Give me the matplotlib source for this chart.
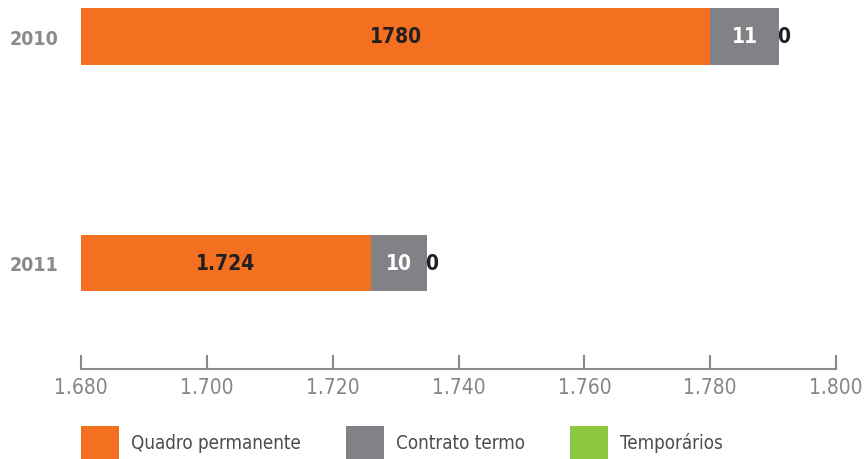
import numpy as np
import matplotlib.pyplot as plt
from matplotlib.patches import Patch

plt.rcParams['font.family'] = ['DejaVu Sans']
plt.rcParams['font.stretch'] = 'condensed'

# dados
anos = ['2011', '2010']
quadro = [1726, 1780]
contrato = [9, 11]
temporarios = [0, 0]
rot_quadro = ['1.724', '1780']
rot_contrato = ['10', '11']
rot_temp = ['0', '0']
series = ['Quadro permanente', 'Contrato termo', 'Temporários']
cores = ['#F37021', '#808285', '#8DC63F']

fig = plt.figure(figsize=(8.68, 4.6), dpi=100)
ax = fig.add_axes([0.0935, 0.1957, 0.8697, 0.8043])

y = np.arange(len(anos))
h = 0.249
ax.barh(y, quadro, height=h, color=cores[0], left=0)
ax.barh(y, contrato, height=h, color=cores[1], left=quadro)
fim = np.array(quadro) + np.array(contrato)
ax.barh(y, temporarios, height=h, color=cores[2], left=fim)

for i in range(len(anos)):
    ax.text((1680 + quadro[i]) / 2, y[i], rot_quadro[i], ha='center', va='center',
            fontsize=15, fontweight='bold', color='#231f20')
    ax.text(quadro[i] + contrato[i] / 2, y[i], rot_contrato[i], ha='center', va='center',
            fontsize=15, fontweight='bold', color='white')
    ax.text(fim[i] - 0.4, y[i], rot_temp[i], ha='left', va='center',
            fontsize=15, fontweight='bold', color='#231f20')

ax.set_xlim(1680, 1800)
ax.set_ylim(-0.4676, 1.1645)
ax.set_yticks(y)
ax.set_yticklabels(anos, fontsize=14, fontweight='bold', color='#8a8a8a')
ax.tick_params(axis='y', length=0, pad=16)

ticks = np.arange(1680, 1801, 20)
ax.set_xticks(ticks)
ax.set_xticklabels(['{:.3f}'.format(t / 1000) for t in ticks], fontsize=15, color='#858585')
ax.tick_params(axis='x', direction='in', length=10, width=1.5, color='#8a8a8a', pad=6)

for s in ['top', 'right', 'left']:
    ax.spines[s].set_visible(False)
ax.spines['bottom'].set_color('#8a8a8a')
ax.spines['bottom'].set_linewidth(1.5)

handles = [Patch(facecolor=c) for c in cores]
fig.legend(handles, series, loc='lower left', bbox_to_anchor=(0.0933, 0.0), ncol=3,
           frameon=False, fontsize=13.5, handlelength=2.03, handleheight=2.35,
           handletextpad=0.64, columnspacing=2.4, labelcolor='#4d4d4d',
           borderaxespad=0, borderpad=0)

fig.savefig('out.png', dpi=100)
